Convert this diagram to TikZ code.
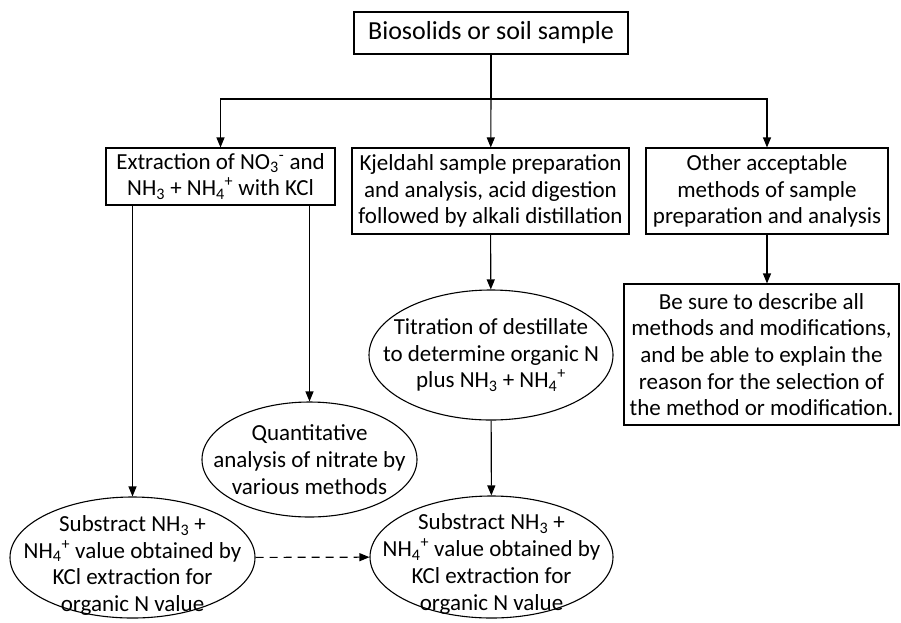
\documentclass[tikz,border=0pt]{standalone}
\usepackage{fontspec}
\setmainfont{Carlito}
\usetikzlibrary{arrows.meta,shapes.geometric}

\newcommand{\sbs}[1]{\textsubscript{#1}}
\newcommand{\sps}[1]{\textsuperscript{#1}}

\begin{document}
\begin{tikzpicture}[x=1pt, y=-1pt, >={Triangle[length=10pt,width=8pt]}, line width=1.1pt,
		every node/.style={font=\fontsize{23}{26.7}\selectfont, align=center, inner sep=0pt},
		box/.style={draw, rectangle},
		oval/.style={draw, ellipse}]
	\useasboundingbox (0,0) rectangle (901,622);
	
	% 顶部：样品
	\node[box, minimum width=274pt, minimum height=42pt, font=\fontsize{26}{30}\selectfont] (sample) at (491,33) {Biosolids or soil sample};
	\coordinate (split) at (491,99);
	
	% 第二层：三种处理方法
	\node[box, minimum width=229pt, minimum height=57pt] (extract) at (220.5,176.5) {Extraction of NO\sbs{3}\sps{-} and\\NH\sbs{3} + NH\sbs{4}\sps{+} with KCl};
	\node[box, minimum width=277pt, minimum height=86pt] (kjeldahl) at (490.5,191) {Kjeldahl sample preparation\\and analysis, acid digestion\\followed by alkali distillation};
	\node[box, minimum width=242pt, minimum height=86pt] (other) at (767,191) {Other acceptable\\methods of sample\\preparation and analysis};
	
	% 第三层
	\node[oval, minimum width=215pt, minimum height=115pt, label=center:{Quantitative\\analysis of nitrate by\\various methods}] (nitrate) at (309.5,459.5) {};
	\node[oval, minimum width=244pt, minimum height=130pt, label=center:{Titration of destillate\\to determine organic N\\plus NH\sbs{3} + NH\sbs{4}\sps{+}}] (titration) at (491,355) {};
	\node[box, minimum width=275pt, minimum height=141pt] (describe) at (761.5,354.5) {Be sure to describe all\\methods and modifications,\\and be able to explain the\\reason for the selection of\\the method or modification.};
	
	% 底层：扣除 NH3 + NH4+
	\node[oval, minimum width=245pt, minimum height=121pt, label={[yshift=-8pt]center:{Substract NH\sbs{3} +\\NH\sbs{4}\sps{+} value obtained by\\KCl extraction for\\organic N value}}] (subleft) at (132.5,557.5) {};
	\node[oval, minimum width=243pt, minimum height=122pt, label={[yshift=-7pt]center:{Substract NH\sbs{3} +\\NH\sbs{4}\sps{+} value obtained by\\KCl extraction for\\organic N value}}] (subright) at (491.5,557) {};
	
	% 连线
	\draw (sample) -- (split);
	\draw[->] (split) -| (extract);
	\draw[->] (split) -- (kjeldahl);
	\draw[->] (split) -| (other);
	\draw[->] (extract.south -| subleft) -- (subleft);
	\draw[->] (extract.south -| nitrate) -- (nitrate);
	\draw[->] (kjeldahl) -- (titration);
	\draw[->] (other.south) -- (other.south |- describe.north);
	\draw[->] (titration) -- (subright);
	\draw[->, dash pattern=on 8pt off 6pt] (subleft) -- (subright);
\end{tikzpicture}
\end{document}
